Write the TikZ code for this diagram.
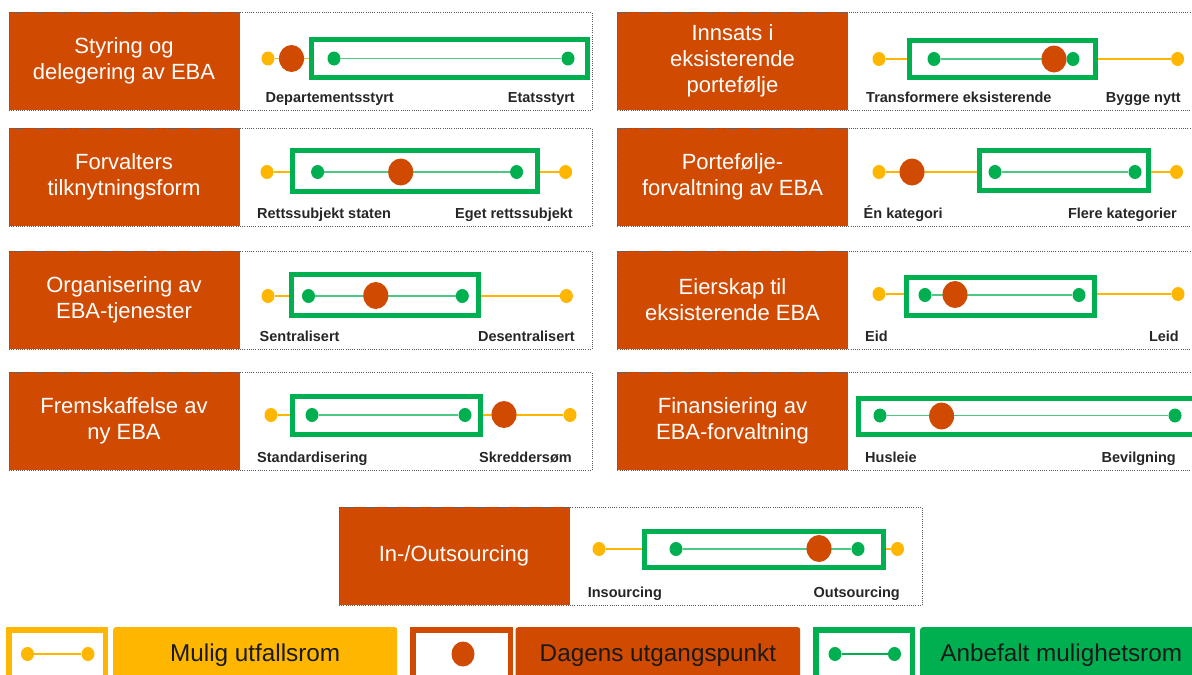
\documentclass[tikz,border=0pt]{standalone}
\usepackage{fontspec}
\setmainfont{Liberation Sans}
\usetikzlibrary{shapes.geometric}

\definecolor{pwcorange}{HTML}{D04A02}
\definecolor{ayellow}{HTML}{FFB600}
\definecolor{agreen}{HTML}{00B050}
\definecolor{framegray}{HTML}{5A5A5A}
\definecolor{labgray}{HTML}{262626}
\definecolor{legtextcol}{HTML}{1A1A1A}

\pgfdeclarelayer{back}
\pgfsetlayers{back,main}

\newcommand\paneltitlefont{\fontsize{22}{26}\selectfont}
\newcommand\scalelabelfont{\fontsize{14.5}{16}\selectfont\bfseries}
\newcommand\legendtextfont{\fontsize{24.3}{28}\selectfont}

\tikzset{
  titlebox/.style={fill=pwcorange, minimum width=231pt, minimum height=98pt, inner sep=0pt, outer sep=0pt},
  panelframe/.style={draw=framegray, line width=0.9pt, dash pattern=on 1pt off 1.2pt,
    minimum width=583pt, minimum height=98pt, inner sep=0pt},
  paneltitle/.style={text=white, font=\paneltitlefont, align=center, inner sep=0pt},
  scalelabel/.style={text=labgray, font=\scalelabelfont, inner sep=0pt},
  ydot/.style={ellipse, fill=ayellow, minimum width=13pt, minimum height=14pt, inner sep=0pt},
  gdot/.style={ellipse, fill=agreen, minimum width=13pt, minimum height=14pt, inner sep=0pt},
  odot/.style={ellipse, fill=pwcorange, minimum width=25pt, minimum height=27pt, inner sep=0pt},
  yline/.style={draw=ayellow, line width=1.5pt},
  gline/.style={draw=agreen!70, line width=1.5pt},
  gbox/.style={draw=agreen, line width=5pt, fill=white},
  legframe/.style={draw=#1, line width=5.5pt, fill=white},
  legfill/.style={fill=#1, rounded corners=2.5pt, minimum height=56pt, inner sep=0pt,
    text=legtextcol, font=\legendtextfont, anchor=north west},
}

% #1 id, #2 left x, #3 top y, #4 title, #5 left label, #6 right label,
% #7 left label x, #8 right label x
\newcommand\panelbase[8]{%
  \node[titlebox, anchor=north west] (#1-head) at (#2,#3) {};
  \node[paneltitle] (#1-title) at (#1-head.center) {#4};
  \node[panelframe, anchor=north west] (#1-frame) at (#2,#3) {};
  \node[scalelabel, anchor=base west] (#1-left) at (#7,#3+90.5) {#5};
  \node[scalelabel, anchor=base east] (#1-right) at (#8,#3+90.5) {#6};
}

\begin{document}
\begin{tikzpicture}[x=1pt, y=-1pt]
\useasboundingbox (0,0) rectangle (1192,675);
\clip (0,0) rectangle (1192,675);

% ---------- Styring og delegering av EBA ----------
\panelbase{sty}{8.5}{12}{Styring og\\delegering av EBA}{Departementsstyrt}{Etatsstyrt}{265.5}{575}
\node[ydot] (sty-y1) at (268,58.5) {};
\coordinate (sty-yend) at (580,58.5);
\node[gdot] (sty-g1) at (334,58.5) {};
\node[gdot] (sty-g2) at (568,58.5) {};
\node[odot] (sty-o) at (291.5,58.5) {};
\begin{pgfonlayer}{back}
  \draw[yline] (sty-y1) -- (sty-yend);
  \draw[gbox] (311,39.5) rectangle (587,77.5);
  \draw[gline] (sty-g1) -- (sty-g2);
\end{pgfonlayer}

% ---------- Forvalters tilknytningsform ----------
\panelbase{forv}{8.5}{128}{Forvalters\\tilknytningsform}{Rettssubjekt staten}{Eget rettssubjekt}{257}{573}
\node[ydot] (forv-y1) at (267,172) {};
\node[ydot] (forv-y2) at (565.6,172) {};
\node[gdot] (forv-g1) at (317.6,172) {};
\node[gdot] (forv-g2) at (516.6,172) {};
\node[odot] (forv-o) at (400.7,172) {};
\begin{pgfonlayer}{back}
  \draw[yline] (forv-y1) -- (forv-y2);
  \draw[gbox] (292.5,150.5) rectangle (537,191.5);
  \draw[gline] (forv-g1) -- (forv-g2);
\end{pgfonlayer}

% ---------- Organisering av EBA-tjenester ----------
\panelbase{org}{8.5}{251}{Organisering av\\EBA-tjenester}{Sentralisert}{Desentralisert}{259.5}{575}
\node[ydot] (org-y1) at (268,296) {};
\node[ydot] (org-y2) at (566.4,296) {};
\node[gdot] (org-g1) at (308.5,296) {};
\node[gdot] (org-g2) at (462.3,296) {};
\node[odot] (org-o) at (375.8,295.5) {};
\begin{pgfonlayer}{back}
  \draw[yline] (org-y1) -- (org-y2);
  \draw[gbox] (291,274.5) rectangle (478.5,315.5);
  \draw[gline] (org-g1) -- (org-g2);
\end{pgfonlayer}

% ---------- Fremskaffelse av ny EBA ----------
\panelbase{frem}{8.5}{372}{Fremskaffelse av\\ny EBA}{Standardisering}{Skreddersøm}{257}{572}
\node[ydot] (frem-y1) at (271,415) {};
\node[ydot] (frem-y2) at (570,415) {};
\node[gdot] (frem-g1) at (312,415) {};
\node[gdot] (frem-g2) at (465,415) {};
\node[odot] (frem-o) at (504,414.5) {};
\begin{pgfonlayer}{back}
  \draw[yline] (frem-y1) -- (frem-y2);
  \draw[gbox] (292.5,396.5) rectangle (480.5,434.5);
  \draw[gline] (frem-g1) -- (frem-g2);
\end{pgfonlayer}

% ---------- Innsats i eksisterende portefølje ----------
\panelbase{inn}{617}{12}{Innsats i\\eksisterende\\portefølje}{Transformere eksisterende}{Bygge nytt}{866}{1181}
\node[ydot] (inn-y1) at (879,59) {};
\node[ydot] (inn-y2) at (1177.6,59) {};
\node[gdot] (inn-g1) at (934,59) {};
\node[gdot] (inn-g2) at (1073,59) {};
\node[odot] (inn-o) at (1054,59) {};
\begin{pgfonlayer}{back}
  \draw[yline] (inn-y1) -- (inn-y2);
  \draw[gbox] (909,40.5) rectangle (1095.5,77.5);
  \draw[gline] (inn-g1) -- (inn-g2);
\end{pgfonlayer}

% ---------- Portefølje-forvaltning av EBA ----------
\panelbase{port}{617}{128}{Portefølje-\\forvaltning av EBA}{Én kategori}{Flere kategorier}{863.5}{1177}
\node[ydot] (port-y1) at (879,172) {};
\node[ydot] (port-y2) at (1176.5,172) {};
\node[gdot] (port-g1) at (995,172) {};
\node[gdot] (port-g2) at (1135,172) {};
\node[odot] (port-o) at (912,172) {};
\begin{pgfonlayer}{back}
  \draw[yline] (port-y1) -- (port-y2);
  \draw[gbox] (979.5,150.5) rectangle (1148.5,190.5);
  \draw[gline] (port-g1) -- (port-g2);
\end{pgfonlayer}

% ---------- Eierskap til eksisterende EBA ----------
\panelbase{eier}{617}{251}{Eierskap til\\eksisterende EBA}{Eid}{Leid}{865}{1179}
\node[ydot] (eier-y1) at (879,294) {};
\node[ydot] (eier-y2) at (1178,294) {};
\node[gdot] (eier-g1) at (925,295) {};
\node[gdot] (eier-g2) at (1079,295) {};
\node[odot] (eier-o) at (955,294.5) {};
\begin{pgfonlayer}{back}
  \draw[yline] (eier-y1) -- (eier-y2);
  \draw[gbox] (906.5,277.5) rectangle (1094.5,315.5);
  \draw[gline] (eier-g1) -- (eier-g2);
\end{pgfonlayer}

% ---------- Finansiering av EBA-forvaltning ----------
\panelbase{fin}{617}{372}{Finansiering av\\EBA-forvaltning}{Husleie}{Bevilgning}{865}{1176}
\node[gdot] (fin-g1) at (880,415.5) {};
\node[gdot] (fin-g2) at (1175,415.5) {};
\node[odot] (fin-o) at (941.6,416) {};
\begin{pgfonlayer}{back}
  \draw[gbox] (858.5,398.5) rectangle (1200,434.5);
  \draw[gline] (fin-g1) -- (fin-g2);
\end{pgfonlayer}

% ---------- In-/Outsourcing ----------
\panelbase{out}{338.5}{507}{In-/Outsourcing}{Insourcing}{Outsourcing}{587.6}{900}
\node[ydot] (out-y1) at (599,549) {};
\node[ydot] (out-y2) at (897.5,549) {};
\node[gdot] (out-g1) at (676,549) {};
\node[gdot] (out-g2) at (858,549) {};
\node[odot] (out-o) at (819,548.5) {};
\begin{pgfonlayer}{back}
  \draw[yline] (out-y1) -- (out-y2);
  \draw[gbox] (644.5,531.5) rectangle (883.2,567.5);
  \draw[gline] (out-g1) -- (out-g2);
\end{pgfonlayer}

% ---------- Legend ----------
\draw[legframe=ayellow] (8.75,629.75) rectangle (105.25,690);
\node[ydot] (lg-y1) at (27.5,654) {};
\node[ydot] (lg-y2) at (88,654) {};
\draw[ayellow, line width=2pt] (lg-y1) -- (lg-y2);
\node[legfill=ayellow, minimum width=284pt] (lg-ytext) at (113,627) {Mulig utfallsrom};

\draw[legframe=pwcorange] (412.75,629.75) rectangle (510.25,690);
\node[odot, minimum width=23pt, minimum height=25pt] (lg-o) at (463,654) {};
\node[legfill=pwcorange, minimum width=284.5pt] (lg-otext) at (515.5,627) {Dagens utgangspunkt};

\draw[legframe=agreen] (815.75,629.75) rectangle (912.25,690);
\node[gdot] (lg-g1) at (835,654) {};
\node[gdot] (lg-g2) at (894.5,654) {};
\draw[agreen, line width=2pt] (lg-g1) -- (lg-g2);
\node[legfill=agreen, minimum width=282pt] (lg-gtext) at (920,627) {Anbefalt mulighetsrom};
\end{tikzpicture}
\end{document}
